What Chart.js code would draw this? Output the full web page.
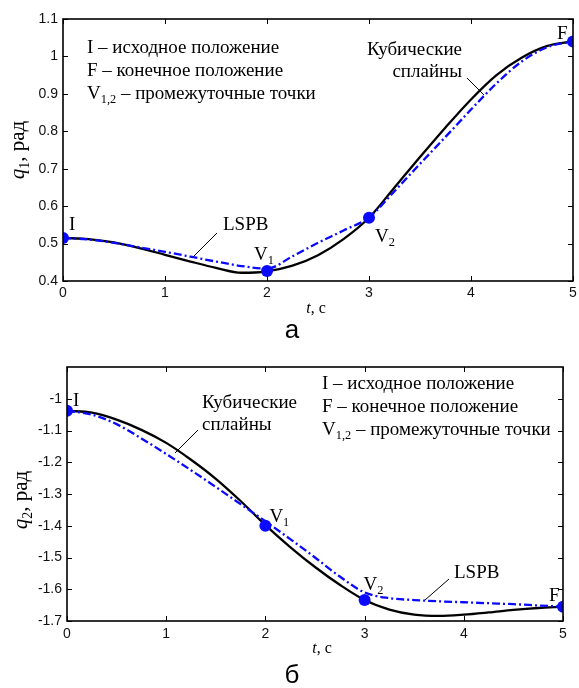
<!DOCTYPE html>
<html>
<head>
<meta charset="utf-8">
<script src="https://cdn.jsdelivr.net/npm/chart.js@4.4.0/dist/chart.umd.min.js"></script>
<style>
  body { margin: 0; background: #fff; }
  .box { position: absolute; left: 0; width: 579px; }
</style>
</head>
<body>
<div class="box" style="top:0;height:340px"><canvas id="chartA" width="579" height="340"></canvas></div>
<div class="box" style="top:340px;height:348px"><canvas id="chartB" width="579" height="348"></canvas></div>
<script>
// time samples, s
var timeS = [0, 0.25, 0.5, 0.75, 1, 1.25, 1.5, 1.75, 2, 2.25, 2.5, 2.75, 3, 3.25, 3.5, 3.75, 4, 4.25, 4.5, 4.75, 5];

// joint 1, rad
var q1Spline = [0.515, 0.512, 0.503, 0.488, 0.470, 0.452, 0.435, 0.422, 0.426, 0.441, 0.469, 0.512, 0.569, 0.650, 0.731, 0.810, 0.885, 0.950, 0.997, 1.028, 1.040];
var q1Lspb   = [0.515, 0.511, 0.502, 0.490, 0.478, 0.465, 0.452, 0.440, 0.433, 0.466, 0.502, 0.535, 0.570, 0.640, 0.713, 0.785, 0.858, 0.928, 0.987, 1.025, 1.040];

// joint 2, rad
var q2Spline = [-1.038, -1.044, -1.066, -1.098, -1.139, -1.192, -1.252, -1.322, -1.398, -1.467, -1.530, -1.586, -1.634, -1.664, -1.680, -1.684, -1.680, -1.673, -1.665, -1.659, -1.655];
var q2Lspb   = [-1.038, -1.050, -1.080, -1.125, -1.174, -1.225, -1.278, -1.332, -1.386, -1.442, -1.500, -1.560, -1.610, -1.628, -1.634, -1.638, -1.641, -1.644, -1.647, -1.651, -1.655];

// knot points I, V1, V2, F
var knotT  = [0, 2, 3, 5];
var q1Knot = [0.515, 0.427, 0.569, 1.040];
var q2Knot = [-1.038, -1.400, -1.634, -1.655];
var knotNames = [['I', ''], ['V', '1'], ['V', '2'], ['F', '']];

var xTicks  = [0, 1, 2, 3, 4, 5];
var q1Ticks = [0.4, 0.5, 0.6, 0.7, 0.8, 0.9, 1.0, 1.1];
var q2Ticks = [-1.7, -1.6, -1.5, -1.4, -1.3, -1.2, -1.1, -1.0];

var SERIF = '"Liberation Serif", "Times New Roman", serif';
var SANS = '"Liberation Sans", Arial, sans-serif';
var TXT = 19;

function pts(xs, ys) {
  return xs.map(function (x, i) { return { x: x, y: ys[i] }; });
}

// draw text runs: [text, italic, sub]
function richText(ctx, runs, x, y, size, align) {
  var w = 0;
  runs.forEach(function (r) {
    ctx.font = (r[1] ? 'italic ' : '') + (r[2] ? size * 0.65 : size) + 'px ' + SERIF;
    w += ctx.measureText(r[0]).width;
  });
  var cx = align === 'center' ? x - w / 2 : (align === 'right' ? x - w : x);
  runs.forEach(function (r) {
    ctx.font = (r[1] ? 'italic ' : '') + (r[2] ? size * 0.65 : size) + 'px ' + SERIF;
    ctx.fillText(r[0], cx, r[2] ? y + size * 0.22 : y);
    cx += ctx.measureText(r[0]).width;
  });
}

var decor = {
  id: 'decor',
  afterDraw: function (chart, args, o) {
    var ctx = chart.ctx, a = chart.chartArea;
    var xs = chart.scales.x, ys = chart.scales.y;
    ctx.save();
    ctx.fillStyle = '#000';
    ctx.strokeStyle = '#000';
    ctx.textAlign = 'left';
    ctx.textBaseline = 'alphabetic';

    // frame and inward ticks
    ctx.lineWidth = 1.6;
    ctx.strokeRect(a.left, a.top, a.right - a.left, a.bottom - a.top);
    ctx.lineWidth = 1;
    ctx.beginPath();
    xTicks.forEach(function (t) {
      var px = Math.round(xs.getPixelForValue(t)) + 0.5;
      ctx.moveTo(px, a.bottom); ctx.lineTo(px, a.bottom - 5);
      ctx.moveTo(px, a.top); ctx.lineTo(px, a.top + 5);
    });
    o.yTicks.forEach(function (v) {
      var py = Math.round(ys.getPixelForValue(v)) + 0.5;
      ctx.moveTo(a.left, py); ctx.lineTo(a.left + 5, py);
      ctx.moveTo(a.right, py); ctx.lineTo(a.right - 5, py);
    });
    ctx.stroke();

    // axis titles
    richText(ctx, [['t', true], [', c']], o.xTitle[0], o.xTitle[1], 16, 'center');
    ctx.save();
    ctx.translate(o.yTitle[0], o.yTitle[1]);
    ctx.rotate(-Math.PI / 2);
    richText(ctx, [['q', true], [o.joint, false, true], [', рад']], 0, 0, 21, 'center');
    ctx.restore();
    ctx.font = '26px ' + SANS;
    ctx.textAlign = 'center';
    ctx.fillText(o.panel, o.panelPos[0], o.panelPos[1]);
    ctx.textAlign = 'left';

    // explanation block
    var lx = o.legend[0], ly = o.legend[1];
    richText(ctx, [['I – исходное положение']], lx, ly, TXT);
    richText(ctx, [['F – конечное положение']], lx, ly + 23, TXT);
    richText(ctx, [['V'], ['1,2', false, true], [' – промежуточные точки']], lx, ly + 46, TXT);

    // knot labels
    o.knotLabels.forEach(function (k, i) {
      var px = xs.getPixelForValue(knotT[i]) + k[0];
      var py = ys.getPixelForValue(o.knots[i]) + k[1];
      var n = knotNames[i];
      richText(ctx, n[1] ? [[n[0]], [n[1], false, true]] : [[n[0]]], px, py, TXT);
    });

    // curve captions with leader lines
    o.captions.forEach(function (c) {
      c.lines.forEach(function (s, j) {
        richText(ctx, [[s]], c.x, c.y + j * 22, TXT, c.align);
      });
      ctx.lineWidth = 1;
      ctx.beginPath();
      ctx.moveTo(c.lead[0], c.lead[1]);
      ctx.lineTo(c.lead[2], c.lead[3]);
      ctx.stroke();
    });
    ctx.restore();
  }
};

function makeChart(id, spline, lspb, knots, yMin, yMax, yTicks, layout, deco) {
  return new Chart(document.getElementById(id), {
    type: 'scatter',
    data: {
      datasets: [
        { label: 'LSPB', data: pts(timeS, lspb), showLine: true, borderColor: '#0a0aff', borderWidth: 2.3,
          borderDash: [8, 3, 2, 3], pointRadius: 0, cubicInterpolationMode: 'monotone', order: 2 },
        { label: 'Кубические сплайны', data: pts(timeS, spline), showLine: true, borderColor: '#000', borderWidth: 2.3,
          pointRadius: 0, cubicInterpolationMode: 'monotone', order: 3 },
        { label: 'Точки', data: pts(knotT, knots), showLine: false, pointRadius: 6, pointHoverRadius: 6,
          backgroundColor: '#0a0aff', borderColor: '#0a0aff', borderWidth: 0, order: 1 }
      ]
    },
    options: {
      responsive: false,
      animation: false,
      events: [],
      layout: { padding: layout.pad },
      plugins: { legend: { display: false }, tooltip: { enabled: false }, decor: deco },
      scales: {
        x: {
          type: 'linear', min: 0, max: 5,
          afterBuildTicks: function (s) { s.ticks = xTicks.map(function (v) { return { value: v }; }); },
          afterFit: function (s) { s.height = layout.xh; s.paddingLeft = 0; s.paddingRight = 0; },
          grid: { display: false, drawTicks: false, tickLength: 0 }, border: { display: false },
          ticks: { color: '#111', padding: layout.xpad, font: { family: SANS, size: 14 }, maxRotation: 0 }
        },
        y: {
          type: 'linear', min: yMin, max: yMax,
          afterBuildTicks: function (s) { s.ticks = yTicks.map(function (v) { return { value: v }; }); },
          afterFit: function (s) { s.width = layout.yw; s.paddingTop = 0; s.paddingBottom = 0; },
          grid: { display: false, drawTicks: false, tickLength: 0 }, border: { display: false },
          ticks: { color: '#111', padding: 5, font: { family: SANS, size: 14 },
            callback: function (v) { return String(Math.round(v * 10) / 10); } }
        }
      }
    },
    plugins: [decor]
  });
}

makeChart('chartA', q1Spline, q1Lspb, q1Knot, 0.4, 1.1, q1Ticks,
  { pad: { left: 0, top: 19, right: 3, bottom: 0 }, xh: 59, yw: 63, xpad: 4 },
  {
    joint: '1', yTicks: q1Ticks, knots: q1Knot,
    xTitle: [316, 313], yTitle: [24, 150], panel: 'а', panelPos: [292, 338],
    legend: [87, 53],
    knotLabels: [[6, -8], [-13, -11], [6, 24], [-16, -2]],
    captions: [
      { lines: ['LSPB'], x: 223, y: 230, align: 'left', lead: [217, 233, 193, 257] },
      { lines: ['Кубические', 'сплайны'], x: 462, y: 55, align: 'right', lead: [467, 78, 484, 95] }
    ]
  });

makeChart('chartB', q2Spline, q2Lspb, q2Knot, -1.7, -0.9, q2Ticks,
  { pad: { left: 0, top: 27, right: 16, bottom: 0 }, xh: 67, yw: 67, xpad: 5 },
  {
    joint: '2', yTicks: q2Ticks, knots: q2Knot,
    xTitle: [322, 313], yTitle: [27, 160], panel: 'б', panelPos: [292, 343],
    legend: [322, 49],
    knotLabels: [[6, -5], [4, -4], [-1, -10], [-14, -6]],
    captions: [
      { lines: ['Кубические', 'сплайны'], x: 202, y: 68, align: 'left', lead: [198, 90, 175, 113] },
      { lines: ['LSPB'], x: 454, y: 238, align: 'left', lead: [449, 239, 425, 260] }
    ]
  });
</script>
</body>
</html>
